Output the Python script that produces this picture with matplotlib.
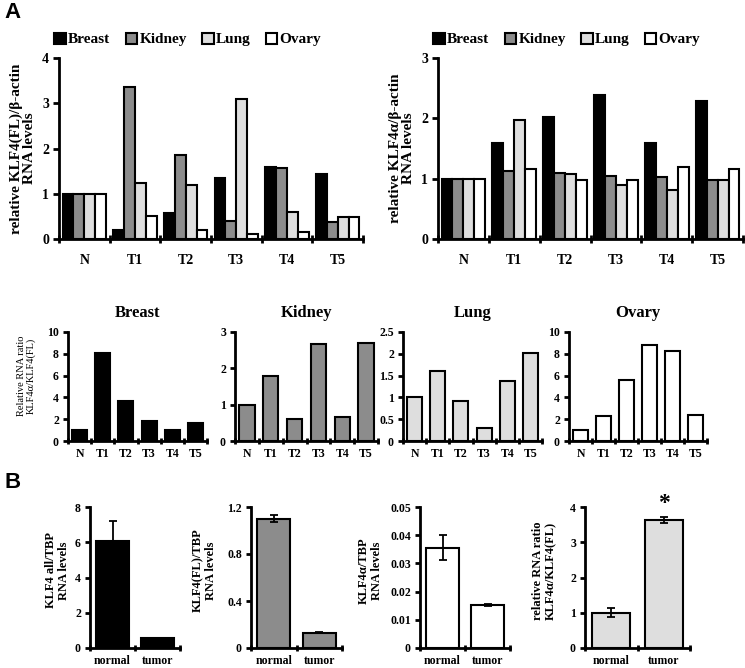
import numpy as np
import matplotlib
matplotlib.use('Agg')
import matplotlib.pyplot as plt

plt.rcParams['font.family'] = ['Liberation Serif', 'DejaVu Serif']
plt.rcParams['font.weight'] = 'bold'
plt.rcParams['axes.labelweight'] = 'bold'
plt.rcParams['axes.linewidth'] = 2.0

# --- Data
samples = ['N', 'T1', 'T2', 'T3', 'T4', 'T5']
tissues = ['Breast', 'Kidney', 'Lung', 'Ovary']
colors  = ['black', '#8c8c8c', '#dedede', 'white']

klf4_fl = {'Breast': [1.0, 0.20, 0.57, 1.35, 1.60, 1.44],
           'Kidney': [1.0, 3.36, 1.86, 0.40, 1.58, 0.38],
           'Lung':   [1.0, 1.24, 1.20, 3.10, 0.60, 0.49],
           'Ovary':  [1.0, 0.50, 0.19, 0.11, 0.15, 0.49]}

klf4_a = {'Breast': [1.0, 1.59, 2.02, 2.39, 1.59, 2.29],
          'Kidney': [1.0, 1.12, 1.09, 1.05, 1.02, 0.98],
          'Lung':   [1.0, 1.97, 1.07, 0.90, 0.82, 0.98],
          'Ovary':  [1.0, 1.16, 0.98, 0.98, 1.19, 1.16]}

ratio = {'Breast': [1.0, 8.1, 3.7, 1.85, 1.05, 1.68],
         'Kidney': [1.0, 1.78, 0.60, 2.67, 0.66, 2.70],
         'Lung':   [1.0, 1.61, 0.91, 0.30, 1.37, 2.01],
         'Ovary':  [1.0, 2.30, 5.60, 8.85, 8.25, 2.37]}
ratio_ylim   = [10, 3, 2.5, 10]
ratio_yticks = [[0, 2, 4, 6, 8, 10], [0, 1, 2, 3], [0, 0.5, 1, 1.5, 2, 2.5], [0, 2, 4, 6, 8, 10]]

groups  = ['normal', 'tumor']
b_vals  = [[6.05, 0.55], [1.10, 0.13], [0.0356, 0.0152], [1.0, 3.63]]
b_errs  = [[1.15, 0.0], [0.03, 0.004], [0.0043, 0.0004], [0.13, 0.08]]
b_ylim  = [8, 1.2, 0.05, 4]
b_ticks = [[0, 2, 4, 6, 8], [0, 0.4, 0.8, 1.2], [0, 0.01, 0.02, 0.03, 0.04, 0.05], [0, 1, 2, 3, 4]]
b_tlabs = [['0', '2', '4', '6', '8'], ['0', '0.4', '0.8', '1.2'],
           ['0', '0.01', '0.02', '0.03', '0.04', '0.05'], ['0', '1', '2', '3', '4']]
b_ylab  = ['KLF4 all/TBP\nRNA levels', 'KLF4(FL)/TBP\nRNA levels',
           'KLF4α/TBP\nRNA levels', 'relative RNA ratio\nKLF4α/KLF4(FL)']
b_col   = ['black', '#8c8c8c', 'white', '#dedede']


def cat_axis(ax, n, fs, tl=5):
    ax.set_xlim(-0.5, n - 0.5)
    ax.set_xticks(np.arange(n + 1) - 0.5)
    ax.set_xticklabels([])
    ax.tick_params(axis='x', which='major', direction='inout', length=tl, width=2)
    ax.tick_params(axis='y', direction='out', length=tl * 0.7, width=2, labelsize=fs, pad=3)
    ax.spines['top'].set_visible(False)
    ax.spines['right'].set_visible(False)


W, H = 745, 668
fig = plt.figure(figsize=(W / 100, H / 100), dpi=100)


def add_ax(x0, x1, y0, y1):
    return fig.add_axes([x0 / W, 1 - y1 / H, (x1 - x0) / W, (y1 - y0) / H])


# --- A top: grouped bars
x = np.arange(len(samples))
bw = 0.215
for (x0, x1), data, ymax, ylab, lx in [((59, 363), klf4_fl, 4, 'relative KLF4(FL)/β-actin\nRNA levels', -0.075),
                                       ((438, 743), klf4_a, 3, 'relative KLF4α/β-actin\nRNA levels', -0.075)]:
    ax = add_ax(x0, x1, 58, 239)
    for i, t in enumerate(tissues):
        ax.bar(x + (i - 1.5) * bw, data[t], bw, color=colors[i], edgecolor='black', lw=1.5, label=t)
    cat_axis(ax, len(samples), 10, tl=6)
    ax.set_ylim(0, ymax)
    ax.set_yticks(range(ymax + 1))
    ax.set_xticks(x, minor=True)
    ax.set_xticklabels(samples, minor=True, fontsize=10)
    ax.tick_params(axis='x', which='minor', length=0, pad=11)
    ax.set_ylabel(ylab, fontsize=11, linespacing=1.0)
    ax.yaxis.set_label_coords(lx, 0.5)
    ax.legend(loc='lower left', bbox_to_anchor=(-0.035, 1.03), ncol=4, frameon=False, fontsize=11,
              handlelength=0.75, handleheight=0.75, handletextpad=0.15, columnspacing=1.0, borderaxespad=0)

# --- A middle: ratio per tissue
mid_pos = [(68, 207), (235, 378), (403, 542), (569, 707)]
for i, t in enumerate(tissues):
    ax = add_ax(mid_pos[i][0], mid_pos[i][1], 332, 441)
    ax.bar(x, ratio[t], 0.65, color=colors[i], edgecolor='black', lw=1.5)
    cat_axis(ax, len(samples), 8.5, tl=5)
    ax.set_ylim(0, ratio_ylim[i])
    ax.set_yticks(ratio_yticks[i])
    ax.set_yticklabels([f'{v:g}' for v in ratio_yticks[i]])
    ax.set_xticks(x, minor=True)
    ax.set_xticklabels(samples, minor=True, fontsize=8.5)
    ax.tick_params(axis='x', which='minor', length=0, pad=5)
    ax.set_title(t, fontsize=12, fontweight='bold', pad=11)
    if i == 0:
        ax.set_ylabel('Relative RNA ratio\nKLF4α/KLF4(FL)', fontsize=7.5, fontweight='normal', linespacing=1.1)
        ax.yaxis.set_label_coords(-0.23, 0.6)

# --- B: normal vs tumor
b_pos = [(90, 180), (251, 342), (420, 510), (585, 690)]
b_lx  = [-0.22, -0.37, -0.41, -0.27]
xb = np.arange(len(groups))
for i in range(4):
    ax = add_ax(b_pos[i][0], b_pos[i][1], 507, 648)
    ax.bar(xb, b_vals[i], 0.72, color=b_col[i], edgecolor='black', lw=1.5,
           yerr=b_errs[i], capsize=3, error_kw=dict(ecolor='black', elinewidth=1.3, capthick=1.3))
    cat_axis(ax, 2, 8.5, tl=5)
    ax.set_ylim(0, b_ylim[i])
    ax.set_yticks(b_ticks[i])
    ax.set_yticklabels(b_tlabs[i])
    ax.set_xticks(xb, minor=True)
    ax.set_xticklabels(groups, minor=True, fontsize=8.5)
    ax.tick_params(axis='x', which='minor', length=0, pad=5)
    ax.set_ylabel(b_ylab[i], fontsize=9, linespacing=1.1)
    ax.yaxis.set_label_coords(b_lx[i], 0.55)
    if i == 3:
        ax.text(xb[1], b_vals[i][1] + b_errs[i][1] + 0.08, '*', ha='center', va='bottom', fontsize=17)

fig.text(4 / W, 1 - 13 / H, 'A', fontsize=16, fontweight='bold', family='Liberation Sans', va='center')
fig.text(4 / W, 1 - 483 / H, 'B', fontsize=16, fontweight='bold', family='Liberation Sans', va='center')

fig.savefig('out.png', dpi=100)
